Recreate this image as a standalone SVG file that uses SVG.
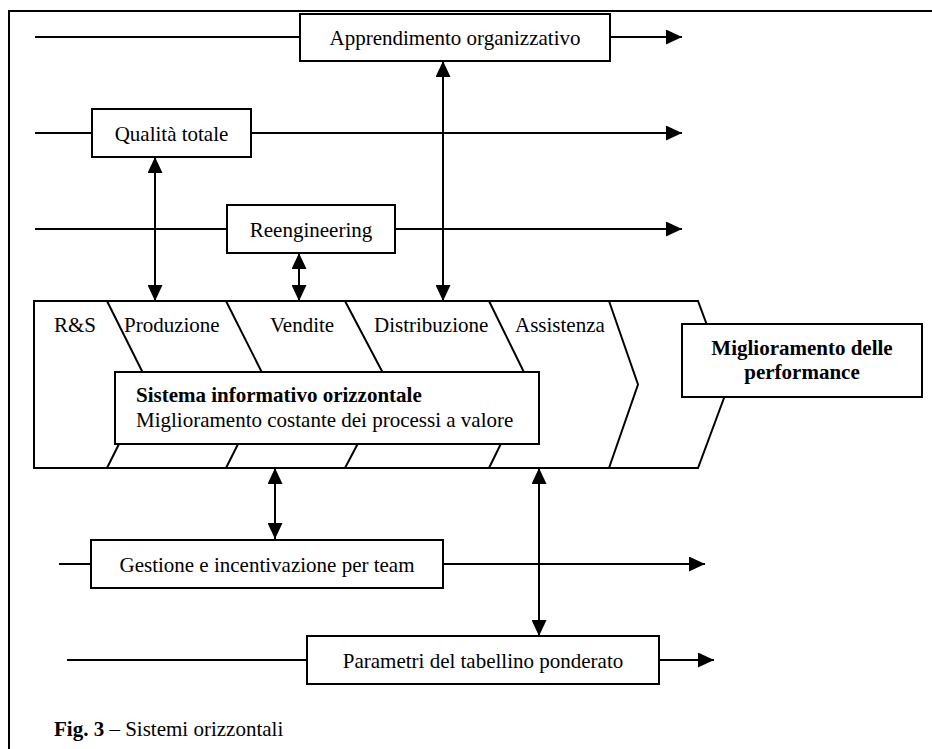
<svg xmlns="http://www.w3.org/2000/svg" width="932" height="749" viewBox="0 0 932 749">
  <style>
    .ln { fill: none; stroke: #000; stroke-width: 2; }
    .box { fill: #fff; stroke: #000; stroke-width: 2; }
    .t { font-family: "Liberation Serif", "Times New Roman", serif; font-size: 21px; fill: #000; }
    .c { text-anchor: middle; }
    .b { font-weight: bold; }
  </style>
  <defs>
    <marker id="ah" markerUnits="userSpaceOnUse" markerWidth="16" markerHeight="15" refX="16" refY="7.5" orient="auto-start-reverse">
      <path d="M0,0 L16,7.5 L0,15 Z" fill="#000"/>
    </marker>
  </defs>

  <!-- page frame -->
  <path class="ln" d="M9,749 V11 H932" stroke="#222"/>

  <!-- value chain band -->
  <g id="value-chain">
    <path class="box" d="M34,301 H698 L729,384.5 L698,468 H34 Z"/>
    <polyline class="ln" points="107,301 148.7,384.5 107,468"/>
    <polyline class="ln" points="226,301 268,384.5 226,468"/>
    <polyline class="ln" points="345,301 389,384.5 345,468"/>
    <polyline class="ln" points="489,301 530,384.5 489,468"/>
    <polyline class="ln" points="609,301 638,384.5 609,468"/>
    <text class="t" x="54" y="332">R&amp;S</text>
    <text class="t" x="124" y="332">Produzione</text>
    <text class="t" x="270" y="332">Vendite</text>
    <text class="t" x="374" y="332">Distribuzione</text>
    <text class="t" x="515" y="332">Assistenza</text>
  </g>

  <!-- connectors -->
  <g id="connectors">
    <line class="ln" x1="35" y1="37" x2="300" y2="37"/>
    <line class="ln" x1="610" y1="37" x2="682" y2="37" marker-end="url(#ah)"/>
    <line class="ln" x1="35" y1="133" x2="92" y2="133"/>
    <line class="ln" x1="251" y1="133" x2="682" y2="133" marker-end="url(#ah)"/>
    <line class="ln" x1="35" y1="229" x2="227" y2="229"/>
    <line class="ln" x1="395" y1="229" x2="682" y2="229" marker-end="url(#ah)"/>
    <line class="ln" x1="59" y1="564" x2="91" y2="564"/>
    <line class="ln" x1="443" y1="564" x2="705" y2="564" marker-end="url(#ah)"/>
    <line class="ln" x1="67" y1="660" x2="307" y2="660"/>
    <line class="ln" x1="659" y1="660" x2="714" y2="660" marker-end="url(#ah)"/>
    <line class="ln" x1="155" y1="157" x2="155" y2="301" marker-start="url(#ah)" marker-end="url(#ah)"/>
    <line class="ln" x1="299" y1="253" x2="299" y2="301" marker-start="url(#ah)" marker-end="url(#ah)"/>
    <line class="ln" x1="443" y1="61" x2="443" y2="301" marker-start="url(#ah)" marker-end="url(#ah)"/>
    <line class="ln" x1="275" y1="468" x2="275" y2="539" marker-start="url(#ah)" marker-end="url(#ah)"/>
    <line class="ln" x1="539" y1="468" x2="539" y2="636" marker-start="url(#ah)" marker-end="url(#ah)"/>
  </g>

  <g id="apprendimento">
    <rect class="box" x="300" y="14" width="310" height="47"/>
    <text class="t c" x="455" y="44.5">Apprendimento organizzativo</text>
  </g>
  <g id="qualita">
    <rect class="box" x="92" y="109" width="159" height="48"/>
    <text class="t c" x="171.5" y="140.5">Qualità totale</text>
  </g>
  <g id="reengineering">
    <rect class="box" x="227" y="205" width="168" height="48"/>
    <text class="t c" x="311" y="236.5">Reengineering</text>
  </g>
  <g id="sistema-informativo">
    <rect class="box" x="115" y="372" width="424" height="72"/>
    <text class="t b" x="136" y="402">Sistema informativo orizzontale</text>
    <text class="t" x="136" y="427">Miglioramento costante dei processi a valore</text>
  </g>
  <g id="performance">
    <rect class="box" x="682" y="324" width="240" height="73"/>
    <text class="t b c" x="802" y="355">Miglioramento delle</text>
    <text class="t b c" x="802" y="379">performance</text>
  </g>
  <g id="gestione">
    <rect class="box" x="91" y="540" width="352" height="48"/>
    <text class="t c" x="267" y="571.5">Gestione e incentivazione per team</text>
  </g>
  <g id="parametri">
    <rect class="box" x="307" y="636" width="352" height="48"/>
    <text class="t c" x="483" y="667.5">Parametri del tabellino ponderato</text>
  </g>

  <text class="t" x="54" y="736"><tspan class="b">Fig. 3</tspan> – Sistemi orizzontali</text>
</svg>
